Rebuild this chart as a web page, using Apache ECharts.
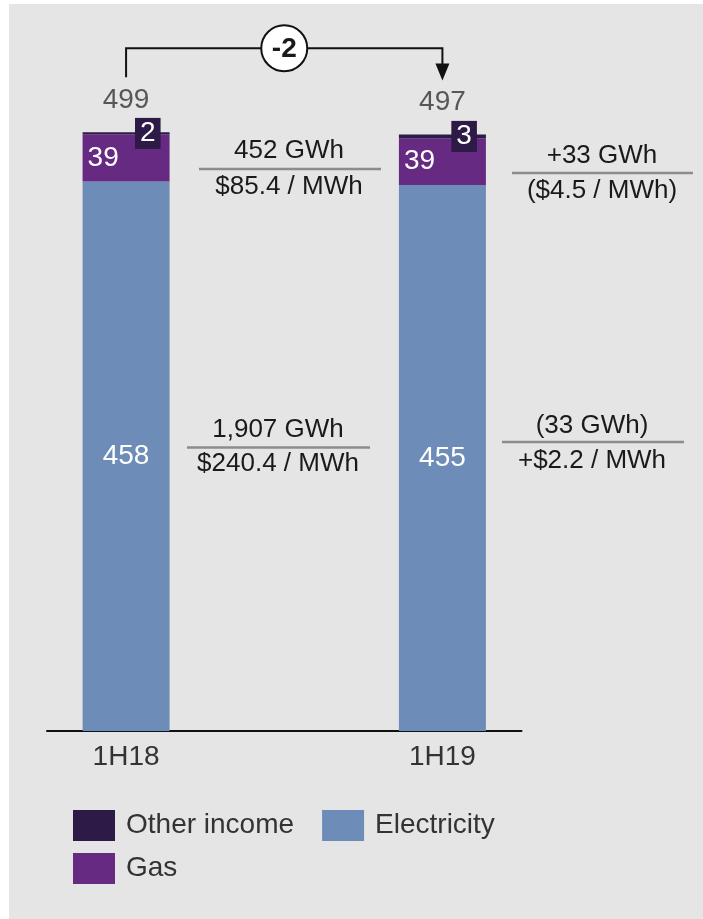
<!DOCTYPE html>
<html>
<head>
<meta charset="utf-8">
<script src="https://cdn.jsdelivr.net/npm/echarts@6/dist/echarts.min.js"></script>
<style>
  html, body { margin: 0; padding: 0; background: #ffffff; }
  #panel { position: absolute; left: 9px; top: 4px; width: 694px; height: 915px; background: #e5e5e5; }
  #main { position: absolute; left: 0; top: 0; width: 703px; height: 919px; }
</style>
</head>
<body>
<div id="panel"></div>
<div id="main"></div>
<script>
// Revenue bridge by half-year (stacked), with volume / price commentary
const periods = ['1H18', '', '1H19'];
const electricity = [458, null, 455];
const gas = [39, null, 39];
const otherIncome = [2, null, 3];
const totals = [499, null, 497];
const totalChange = '-2';

const gasVolumePrice = ['452 GWh', '$85.4 / MWh'];
const gasVariance = ['+33 GWh', '($4.5 / MWh)'];
const elecVolumePrice = ['1,907 GWh', '$240.4 / MWh'];
const elecVariance = ['(33 GWh)', '+$2.2 / MWh'];

const FONT = 'Arial, "Liberation Sans", sans-serif';
const COLORS = { other: '#2d1a46', gas: '#662a82', elec: '#6d8cb8' };

const chart = echarts.init(document.getElementById('main'), null, { renderer: 'canvas' });

chart.setOption({
  animation: false,
  backgroundColor: 'transparent',
  textStyle: { fontFamily: FONT },
  grid: { left: 47, right: 181.5, top: 11, bottom: 188, containLabel: false },
  legend: [
    {
      data: ['Other income', 'Electricity'],
      left: 68, top: 805, itemWidth: 42, itemHeight: 31, itemGap: 28,
      icon: 'rect', selectedMode: false,
      textStyle: { fontSize: 28, color: '#333', fontFamily: FONT, padding: [0, 0, 0, 6] }
    },
    {
      data: ['Gas'],
      left: 68, top: 848, itemWidth: 42, itemHeight: 31,
      icon: 'rect', selectedMode: false,
      textStyle: { fontSize: 28, color: '#333', fontFamily: FONT, padding: [0, 0, 0, 6] }
    }
  ],
  xAxis: {
    type: 'category',
    data: periods,
    axisLine: { lineStyle: { color: '#111', width: 2 } },
    axisTick: { show: false },
    axisLabel: { fontSize: 28, color: '#333', margin: 12, fontFamily: FONT }
  },
  yAxis: {
    type: 'value', min: 0, max: 600,
    show: false, splitLine: { show: false }
  },
  series: [
    {
      name: 'Electricity', type: 'bar', stack: 'rev', barWidth: 87,
      data: electricity,
      itemStyle: { color: COLORS.elec },
      label: { show: true, position: 'inside', color: '#fff', fontSize: 28, fontFamily: FONT }
    },
    {
      name: 'Gas', type: 'bar', stack: 'rev', barWidth: 87,
      data: gas,
      itemStyle: { color: COLORS.gas },
      label: { show: true, position: 'insideLeft', distance: 5, color: '#fff', fontSize: 28, fontFamily: FONT }
    },
    {
      name: 'Other income', type: 'bar', stack: 'rev', barWidth: 87,
      data: otherIncome,
      itemStyle: { color: COLORS.other },
      label: {
        show: true, position: 'insideRight', distance: 9, color: '#fff',
        fontSize: 28, lineHeight: 28, fontFamily: FONT,
        backgroundColor: COLORS.other, padding: [2, 5, 1, 5]
      }
    },
    {
      name: 'Total', type: 'scatter', symbolSize: 0,
      data: totals,
      label: { show: true, position: 'top', distance: 18, color: '#333', fontSize: 28, fontFamily: FONT },
      silent: true
    }
  ]
});

// Commentary blocks: value above a rule, price below
function noteBlock(lines, cx, yTop, yRule, yBottom, ruleX0, ruleX1) {
  const txt = (t, y) => ({
    type: 'text', x: cx, y: y, silent: true,
    style: { text: t, fontSize: 26, fontFamily: FONT, fill: '#1a1a1a', align: 'center', verticalAlign: 'middle' }
  });
  return [
    txt(lines[0], yTop),
    { type: 'line', silent: true, shape: { x1: ruleX0, y1: yRule, x2: ruleX1, y2: yRule },
      style: { stroke: '#8c8c8c', lineWidth: 2.5 } },
    txt(lines[1], yBottom)
  ];
}

// Bridge bracket between the two totals
const p0 = chart.convertToPixel({ gridIndex: 0 }, [periods[0], totals[0]]);
const p1 = chart.convertToPixel({ gridIndex: 0 }, [periods[2], totals[2]]);
const bracketY = Math.min(p0[1], p1[1]) - 84;
const midX = (p0[0] + p1[0]) / 2;
const tipY = p1[1] - 54;

const graphics = [
  { type: 'polyline', silent: true,
    shape: { points: [[p0[0], p0[1] - 55], [p0[0], bracketY], [p1[0], bracketY], [p1[0], tipY - 14]] },
    style: { stroke: '#111', lineWidth: 2, fill: null } },
  { type: 'polygon', silent: true,
    shape: { points: [[p1[0] - 7, tipY - 17], [p1[0] + 7, tipY - 17], [p1[0], tipY]] },
    style: { fill: '#111' } },
  { type: 'circle', silent: true, shape: { cx: midX, cy: bracketY, r: 23 },
    style: { fill: '#fff', stroke: '#111', lineWidth: 2 } },
  { type: 'text', silent: true, x: midX, y: bracketY + 1,
    style: { text: totalChange, fontSize: 28, fontWeight: 'bold', fontFamily: FONT, fill: '#1a1a1a',
             align: 'center', verticalAlign: 'middle' } }
]
  .concat(noteBlock(gasVolumePrice, 289, 151, 169, 187, 199, 381))
  .concat(noteBlock(gasVariance, 602, 156, 173, 191, 512, 693))
  .concat(noteBlock(elecVolumePrice, 278, 430, 447.5, 464, 187, 370))
  .concat(noteBlock(elecVariance, 592, 426, 442, 461, 502, 684));

chart.setOption({ graphic: { elements: graphics } });
</script>
</body>
</html>
